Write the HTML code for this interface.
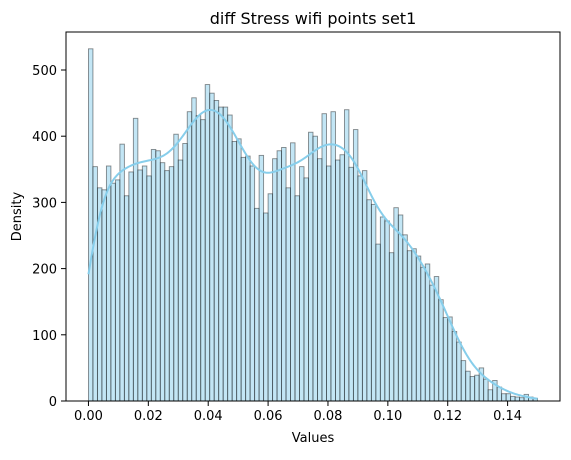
<!DOCTYPE html>
<html><head><meta charset="utf-8"><style>
body{margin:0;background:#fff;font-family:"Liberation Sans","DejaVu Sans",sans-serif;}
</style></head><body>
<svg id="chart" width="571" height="455" xmlns="http://www.w3.org/2000/svg" font-family="DejaVu Sans, Liberation Sans, sans-serif"></svg>
<script>
const binStart = 0.0;
const binWidth = 0.0015;
const counts = [532,354,322,319,355,329,334,388,310,346,427,349,355,340,380,378,360,348,354,403,364,389,437,458,431,425,478,465,454,444,444,432,392,396,368,370,355,291,371,284,313,366,378,383,322,390,310,354,337,406,400,366,434,355,437,364,372,440,353,410,340,348,304,297,237,278,272,224,292,281,251,227,230,219,202,207,175,188,153,126,127,105,89,61,45,37,39,50,33,17,31,21,11,11,7,6,5,10,6,4];
const xTicks = [0.00,0.02,0.04,0.06,0.08,0.10,0.12,0.14];
const xTickLabels = ["0.00","0.02","0.04","0.06","0.08","0.10","0.12","0.14"];
const yTicks = [0,100,200,300,400,500];

const L=66,R=560,T=32,B=401;
const xMin=-0.0075,xMax=0.1575,yMax=557.4;
const X=v=>L+(v-xMin)/(xMax-xMin)*(R-L);
const Y=v=>B-v/yMax*(B-T);
const svg=document.getElementById('chart');
const NS='http://www.w3.org/2000/svg';
function mk(tag,attrs,parent){const e=document.createElementNS(NS,tag);for(const k in attrs)e.setAttribute(k,attrs[k]);(parent||svg).appendChild(e);return e;}

const bars=mk('g',{});


counts.forEach((c,i)=>{
  const x0=X(binStart+i*binWidth),x1=X(binStart+(i+1)*binWidth);
  const r=mk('rect',{x:x0,y:Y(c),width:x1-x0,height:Y(0)-Y(c),fill:'rgba(135,206,235,0.5)',stroke:'rgba(0,0,0,0.45)','stroke-width':0.9},bars);
  
  
});

const sigma=3.4;
let pts=[];
const n=counts.length;
for(let s=0;s<=n*4;s++){
  const pos=s/4;
  let num=0,den=0;
  for(let k=-40;k<=n+40;k++){
    const w=Math.exp(-0.5*Math.pow((k+0.5-pos)/sigma,2));
    den+=w; if(k>=0&&k<n) num+=w*counts[k];
  }
  pts.push([X(binStart+pos*binWidth),Y(num/den)]);
}
const kde=mk('path',{d:'M'+pts.map(p=>p[0].toFixed(2)+','+p[1].toFixed(2)).join('L'),fill:'none',stroke:'#87ceeb','stroke-width':2});



const frame=mk('rect',{x:L,y:T,width:R-L,height:B-T,fill:'none',stroke:'#000','stroke-width':1});



xTicks.forEach((v,i)=>{
  const x=X(v);
  const t=mk('line',{x1:x,x2:x,y1:B,y2:B+5,stroke:'#000'});
  
  
  const l=mk('text',{x:x,y:B+19,'text-anchor':'middle','font-size':13,fill:'#000'});
  l.textContent=xTickLabels[i];
  
  
});
yTicks.forEach(v=>{
  const y=Y(v);
  const t=mk('line',{x1:L-5,x2:L,y1:y,y2:y,stroke:'#000'});
  
  
  const l=mk('text',{x:L-9,y:y+5,'text-anchor':'end','font-size':13,fill:'#000'});
  l.textContent=String(v);
  
  
});
const title=mk('text',{x:(L+R)/2,y:24,'text-anchor':'middle','font-size':16,fill:'#000'});
title.textContent='diff Stress wifi points set1';


const xl=mk('text',{x:(L+R)/2,y:442,'text-anchor':'middle','font-size':13,fill:'#000'});
xl.textContent='Values';


const yl=mk('text',{x:0,y:0,'text-anchor':'middle','font-size':13,fill:'#000',transform:'translate(21,'+((T+B)/2)+') rotate(-90)'});
yl.textContent='Density';


</script>
</body></html>
